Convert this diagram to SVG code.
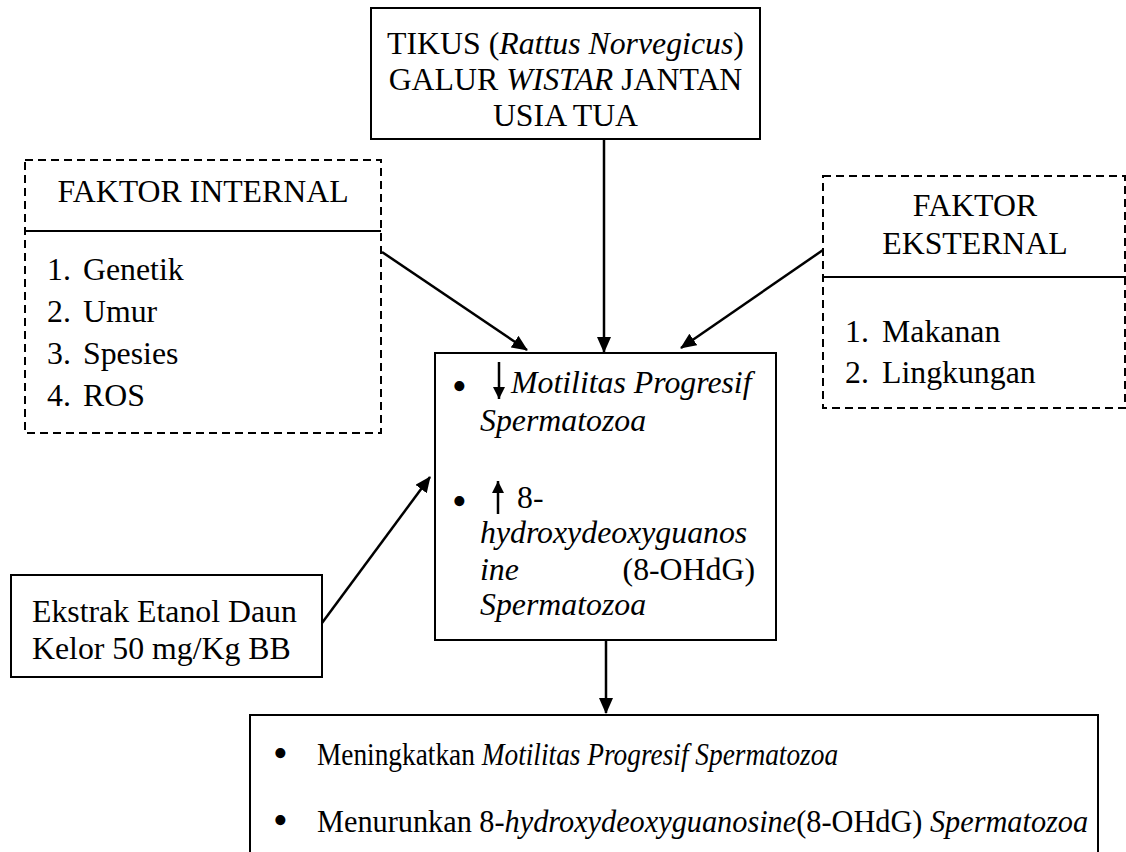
<svg xmlns="http://www.w3.org/2000/svg" width="1126" height="852" viewBox="0 0 1126 852">
<defs>
<marker id="ah" markerUnits="userSpaceOnUse" markerWidth="16" markerHeight="14" refX="15" refY="7" orient="auto">
<path d="M0,0 L16,7 L0,14 z" fill="#000"/>
</marker>
<marker id="sh" markerUnits="userSpaceOnUse" markerWidth="12" markerHeight="12" refX="12" refY="6" orient="auto">
<path d="M0,0 L12,6 L0,12 z" fill="#000"/>
</marker>
</defs>
<style>
text{font-family:"Liberation Serif","Times New Roman",serif;font-size:31.8px;fill:#000}
.i{font-style:italic}
.c{text-anchor:middle}
.b{font-size:42px}
.box{fill:#fff;stroke:#000;stroke-width:2}
.dash{fill:#fff;stroke:#000;stroke-width:2;stroke-dasharray:8 5}
.sep{stroke:#000;stroke-width:2}
.con{stroke:#000;stroke-width:2.5;fill:none;marker-end:url(#ah)}
.small{stroke:#000;stroke-width:2.5;fill:none;marker-end:url(#sh)}
</style>
<rect width="1126" height="852" fill="#fff"/>
<g id="tikus">
<rect class="box" x="371" y="8" width="389" height="131"/>
<text class="c" x="565.5" y="54">TIKUS (<tspan class="i">Rattus Norvegicus</tspan>)</text>
<text class="c" x="565.5" y="90">GALUR <tspan class="i">WISTAR</tspan> JANTAN</text>
<text class="c" x="565.5" y="126">USIA TUA</text>
</g>
<g id="faktor-internal">
<rect class="dash" x="25" y="160" width="356" height="273"/>
<line class="sep" x1="25" y1="231" x2="381" y2="231"/>
<text class="c" x="203" y="202">FAKTOR INTERNAL</text>
<text x="47" y="280">1.</text><text x="83" y="280">Genetik</text>
<text x="47" y="322">2.</text><text x="83" y="322">Umur</text>
<text x="47" y="364">3.</text><text x="83" y="364">Spesies</text>
<text x="47" y="406">4.</text><text x="83" y="406">ROS</text>
</g>
<g id="faktor-eksternal">
<rect class="dash" x="823" y="176" width="302" height="232"/>
<line class="sep" x1="823" y1="277" x2="1126" y2="277"/>
<text class="c" x="975" y="216">FAKTOR</text>
<text class="c" x="975" y="254">EKSTERNAL</text>
<text x="845" y="342">1.</text><text x="882" y="342">Makanan</text>
<text x="845" y="383">2.</text><text x="882" y="383">Lingkungan</text>
</g>
<g id="efek">
<rect class="box" x="435" y="353" width="341" height="287"/>
<text class="b" x="452" y="400">•</text>
<line class="small" x1="499" y1="362" x2="499" y2="399"/>
<text class="i" x="511" y="393">Motilitas Progresif</text>
<text class="i" x="480" y="431">Spermatozoa</text>
<text class="b" x="452" y="515">•</text>
<line class="small" x1="498" y1="514" x2="498" y2="481"/>
<text x="517" y="508">8-</text>
<text class="i" x="480" y="543">hydroxydeoxyguanos</text>
<text class="i" x="480" y="580">ine</text>
<text x="755" y="580" text-anchor="end">(8-OHdG)</text>
<text class="i" x="480" y="615">Spermatozoa</text>
</g>
<g id="ekstrak">
<rect class="box" x="11" y="575" width="311" height="102"/>
<text x="32" y="622">Ekstrak Etanol Daun</text>
<text x="32" y="659">Kelor 50 mg/Kg BB</text>
</g>
<g id="hasil">
<rect class="box" x="250" y="715" width="848" height="170"/>
<text class="b" x="273" y="767">•</text>
<text class="b" x="273" y="834">•</text>
<g transform="translate(317,765) scale(0.86,1)">
<text x="0" y="0">Meningkatkan <tspan class="i">Motilitas Progresif Spermatozoa</tspan></text>
</g>
<g transform="translate(317,832) scale(0.953,1)">
<text x="0" y="0">Menurunkan 8-<tspan class="i">hydroxydeoxyguanosine</tspan>(8-OHdG) <tspan class="i">Spermatozoa</tspan></text>
</g>
</g>
<g id="connectors">
<line class="con" x1="604" y1="139" x2="604" y2="352"/>
<line class="con" x1="382" y1="252" x2="527" y2="350"/>
<line class="con" x1="823" y1="250" x2="681" y2="348"/>
<line class="con" x1="322" y1="623" x2="430" y2="477"/>
<line class="con" x1="606" y1="640" x2="606" y2="713"/>
</g>
</svg>
